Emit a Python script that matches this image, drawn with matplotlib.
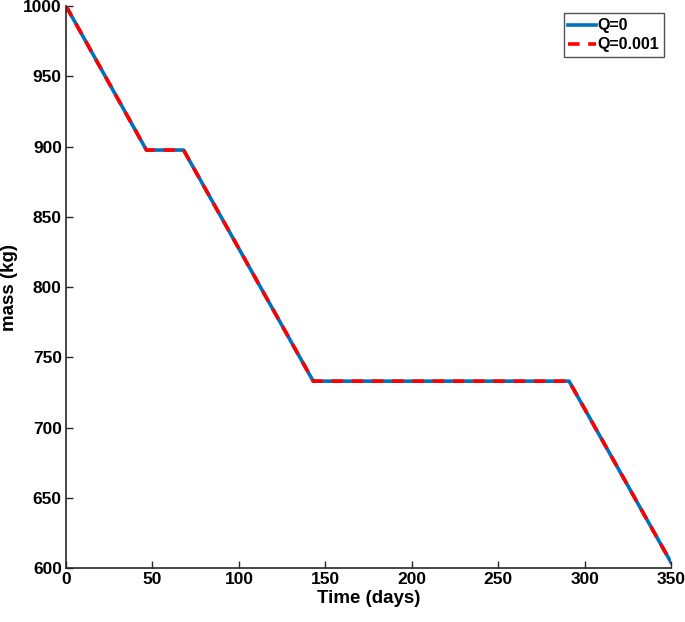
import matplotlib.pyplot as plt
import numpy as np

# breakpoints of the mass history
time_days = [0, 46.5, 68, 143, 291, 350]
mass_q0 = [1000, 897.5, 897.5, 733, 733, 604]
mass_q001 = [1000, 897.5, 897.5, 733, 733, 604]

x_ticks = [0, 50, 100, 150, 200, 250, 300, 350]
y_ticks = [600, 650, 700, 750, 800, 850, 900, 950, 1000]

plt.rcParams['font.family'] = ['Liberation Sans', 'DejaVu Sans']
plt.rcParams['font.weight'] = 'bold'

fig = plt.figure(figsize=(6.85, 6.22), dpi=100)
ax = fig.add_axes([0.0964, 0.0868, 0.8832, 0.9035])

ax.plot(time_days, mass_q0, color='#0072BD', lw=2.6, label='Q=0')
ax.plot(time_days, mass_q001, color='#FF0000', lw=2.6, ls=(0, (3.2, 2.4)),
        label='Q=0.001')

ax.set_xlim(0, 350)
ax.set_ylim(600, 1000)
ax.set_xticks(x_ticks)
ax.set_yticks(y_ticks)
ax.tick_params(direction='in', length=5, width=1.0, labelsize=12.5,
               colors='#262626', labelcolor='black', pad=3)
for lab in ax.get_xticklabels() + ax.get_yticklabels():
    lab.set_fontweight('bold')

for side in ['top', 'right']:
    ax.spines[side].set_visible(False)
for side in ['left', 'bottom']:
    ax.spines[side].set_linewidth(1.2)
    ax.spines[side].set_color('#262626')

ax.set_xlabel('Time (days)', fontsize=13.5, fontweight='bold', labelpad=2)
ax.set_ylabel('mass (kg)', fontsize=13.5, fontweight='bold', labelpad=4)

leg = ax.legend(loc='upper right', bbox_to_anchor=(0.988, 0.987),
                fontsize=11.5, frameon=True, fancybox=False,
                edgecolor='#262626', handlelength=1.7, handletextpad=0.1,
                borderpad=0.3, labelspacing=0.25, borderaxespad=0)
leg.get_frame().set_linewidth(1.0)
for t in leg.get_texts():
    t.set_fontweight('bold')

fig.savefig('out.png', dpi=100)
